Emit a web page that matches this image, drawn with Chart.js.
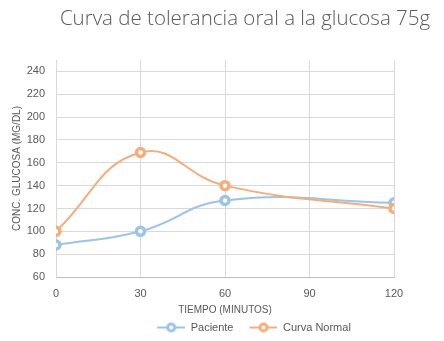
<!DOCTYPE html>
<html>
<head>
<meta charset="utf-8">
<script src="https://cdn.jsdelivr.net/npm/chart.js@4/dist/chart.umd.min.js"></script>
<style>
  html, body { margin: 0; padding: 0; background: #fff; }
  #wrap { width: 444px; height: 341px; }
</style>
</head>
<body>
<div id="wrap"><canvas id="chart"></canvas></div>
<script>
// Curva de tolerancia oral a la glucosa

const TIMES = [0, 30, 60, 120];
const PACIENTE = [88, 100, 127, 125];
const NORMAL = [100, 169, 140, 120];
const X_TICKS = [0, 30, 60, 90, 120];
const Y_TICKS = [60, 80, 100, 120, 140, 160, 180, 200, 220, 240];

const COLORS = {
  blue: '#9DC3E6',
  orange: '#F4AD7C',
  text: '#595959',
  grid: '#D9D9D9',
  axis: '#BFBFBF',
};

const FONT = "'Liberation Sans', Arial, sans-serif";

function points(ys) {
  return TIMES.map((t, i) => ({ x: t, y: ys[i] }));
}

// legend swatch: short line with a hollow circle, like Excel's
// (12px transparent margin on the left gives the gap between items)
function legendSwatch(color) {
  const c = document.createElement('canvas');
  c.width = 40; c.height = 12;
  const ctx = c.getContext('2d');
  ctx.strokeStyle = color;
  ctx.lineWidth = 2;
  ctx.beginPath(); ctx.moveTo(12, 6); ctx.lineTo(40, 6); ctx.stroke();
  ctx.fillStyle = '#fff';
  ctx.lineWidth = 3;
  ctx.beginPath(); ctx.arc(26, 6, 3.5, 0, Math.PI * 2); ctx.fill(); ctx.stroke();
  return c;
}

// Excel centres title/legend a bit right of the plot area
const shiftBlocks = {
  id: 'shiftBlocks',
  afterLayout(chart) {
    if (chart.titleBlock) { chart.titleBlock.left += 48; chart.titleBlock.right += 48; }
    if (chart.legend) { chart.legend.left += 51; chart.legend.right += 51; }
  },
};

const series = [
  { label: 'Paciente', data: points(PACIENTE), color: COLORS.blue, order: 1 },
  { label: 'Curva Normal', data: points(NORMAL), color: COLORS.orange, order: 0 },
];

new Chart(document.getElementById('chart'), {
  type: 'line',
  data: {
    datasets: series.map(s => ({
      label: s.label,
      data: s.data,
      order: s.order,
      borderColor: s.color,
      backgroundColor: '#ffffff',
      borderWidth: 2,
      tension: 0.45,
      pointStyle: 'circle',
      pointRadius: 4,
      pointBorderWidth: 3.5,
      pointBackgroundColor: '#ffffff',
      pointBorderColor: s.color,
      fill: false,
    })),
  },
  options: {
    responsive: true,
    maintainAspectRatio: false,
    animation: false,
    layout: { padding: { left: 0, right: 50, top: 0, bottom: -2 } },
    plugins: {
      tooltip: { enabled: false },
      title: {
        display: true,
        text: 'Curva de tolerancia oral a la glucosa 75g',
        color: COLORS.text,
        font: { family: "'Open Sans', sans-serif", size: 20.5, weight: 300 },
        padding: { top: 7, bottom: 28.4 },
      },
      legend: {
        position: 'bottom',
        labels: {
          color: COLORS.text,
          font: { family: FONT, size: 11 },
          usePointStyle: true,
          pointStyleWidth: 40,
          boxHeight: 11,
          padding: 4,
          generateLabels(chart) {
            return chart.data.datasets.map((ds, i) => ({
              text: ds.label,
              fontColor: COLORS.text,
              pointStyle: legendSwatch(ds.borderColor),
              strokeStyle: ds.borderColor,
              fillStyle: '#fff',
              lineWidth: 0,
              hidden: false,
              datasetIndex: i,
            }));
          },
        },
      },
    },
    scales: {
      x: {
        type: 'linear',
        min: 0,
        max: 120,
        afterBuildTicks(scale) { scale.ticks = X_TICKS.map(v => ({ value: v })); },
        afterFit(scale) { scale.height = 41; },
        grid: { color: COLORS.grid, drawTicks: false },
        border: { color: COLORS.axis },
        ticks: { color: COLORS.text, font: { family: FONT, size: 11 }, padding: 10 },
        title: {
          display: true,
          text: 'TIEMPO (MINUTOS)',
          color: COLORS.text,
          font: { family: FONT, size: 10 },
          padding: { top: 4, bottom: 2 },
        },
      },
      y: {
        min: 60,
        max: 250,
        afterBuildTicks(scale) {
          scale.ticks = Y_TICKS.map(v => ({ value: v })).concat([{ value: 250 }]);
        },
        afterFit(scale) { scale.width = 56; },
        grid: {
          drawTicks: false,
          color: ctx => (ctx.tick && ctx.tick.value === 250 ? 'rgba(0,0,0,0)' : COLORS.grid),
        },
        border: { color: COLORS.grid },
        ticks: {
          color: COLORS.text,
          font: { family: FONT, size: 11 },
          padding: 11,
          callback: v => (v === 250 ? '' : v),
        },
        title: {
          display: true,
          text: 'CONC. GLUCOSA (MG/DL)',
          color: COLORS.text,
          font: { family: FONT, size: 10 },
          padding: { top: 11, bottom: 0 },
        },
      },
    },
  },
  plugins: [shiftBlocks],
});
</script>
</body>
</html>
